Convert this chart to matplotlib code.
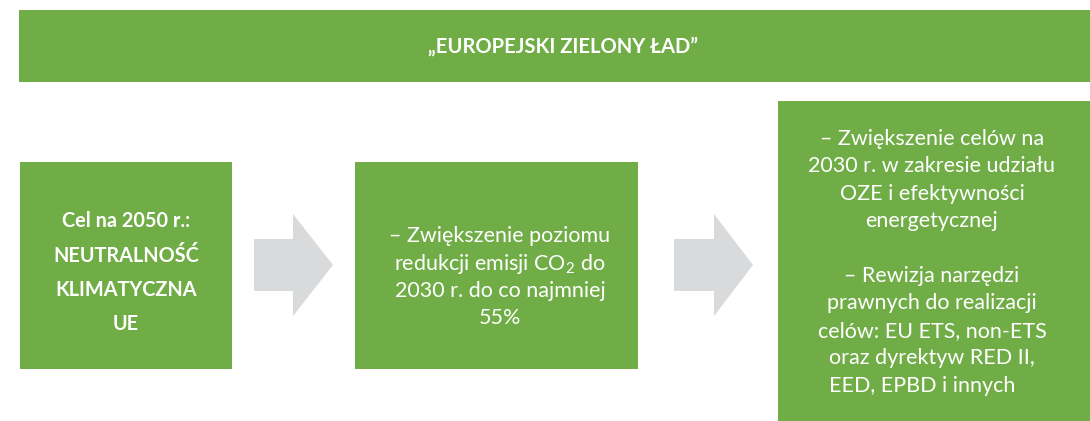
import matplotlib
matplotlib.use("Agg")
import matplotlib.pyplot as plt
from matplotlib.patches import Rectangle, Polygon

# texts of the diagram
title = "„EUROPEJSKI ZIELONY ŁAD”"
goal_lines = ["Cel na 2050 r.:", "NEUTRALNOŚĆ", "KLIMATYCZNA", "UE"]
step2_lines = ["– Zwiększenie poziomu", "redukcji emisji CO$_2$ do", "2030 r. do co najmniej", "55%"]
step3_lines = ["– Zwiększenie celów na", "2030 r. w zakresie udziału", "OZE i efektywności", "energetycznej", "",
               "– Rewizja narzędzi", "prawnych do realizacji", "celów: EU ETS, non-ETS", "oraz dyrektyw RED II,",
               "EED, EPBD i innych"]

GREEN = "#70ad47"
GREY = "#d9dadc"
plt.rcParams['font.family'] = ['Lato', 'DejaVu Sans']
# subscript in CO2 drawn with the same font
plt.rcParams['mathtext.fontset'] = 'custom'
plt.rcParams['mathtext.rm'] = 'Lato'
plt.rcParams['mathtext.it'] = 'Lato'
plt.rcParams['mathtext.default'] = 'rm'

fig = plt.figure(figsize=(10.9, 4.21), dpi=100)
ax = fig.add_axes([0, 0, 1, 1])
ax.set_xlim(0, 1090)
ax.set_ylim(421, 0)
ax.axis("off")


def box(x0, y0, x1, y1):
    ax.add_patch(Rectangle((x0, y0), x1 - x0, y1 - y0, color=GREEN, lw=0))


def arrow(x0, xm, x1, yc):
    pts = [(x0, yc - 26), (xm, yc - 26), (xm, yc - 51), (x1, yc),
           (xm, yc + 51), (xm, yc + 26), (x0, yc + 26)]
    ax.add_patch(Polygon(pts, closed=True, color=GREY, lw=0))


# banner
box(19, 10, 1090, 82)
ax.text(563, 47, title, color="white", fontsize=14.5, fontweight="bold", ha="center", va="center")

# first box
box(20, 162, 232, 369)
for i, s in enumerate(goal_lines):
    ax.text(126, 221 + i * 34.5, s, color="white", fontsize=14.3, fontweight="bold", ha="center", va="center")

arrow(254, 293, 333, 265)

# second box
box(355, 162, 638, 369)
for i, s in enumerate(step2_lines):
    ax.text(500, 234 + i * 27.3, s, color="white", fontsize=15.5, ha="center", va="center_baseline")

arrow(674, 714, 753, 265)

# third box
box(778, 101, 1090, 421)
for i, s in enumerate(step3_lines):
    if i == len(step3_lines) - 1:
        # last line sits left of the centre in the original
        ax.text(829, 139 + i * 27.4, s, color="white", fontsize=15.5, ha="left", va="center")
    else:
        ax.text(932, 139 + i * 27.4, s, color="white", fontsize=15.5, ha="center", va="center")

fig.savefig("out.png", dpi=100)
